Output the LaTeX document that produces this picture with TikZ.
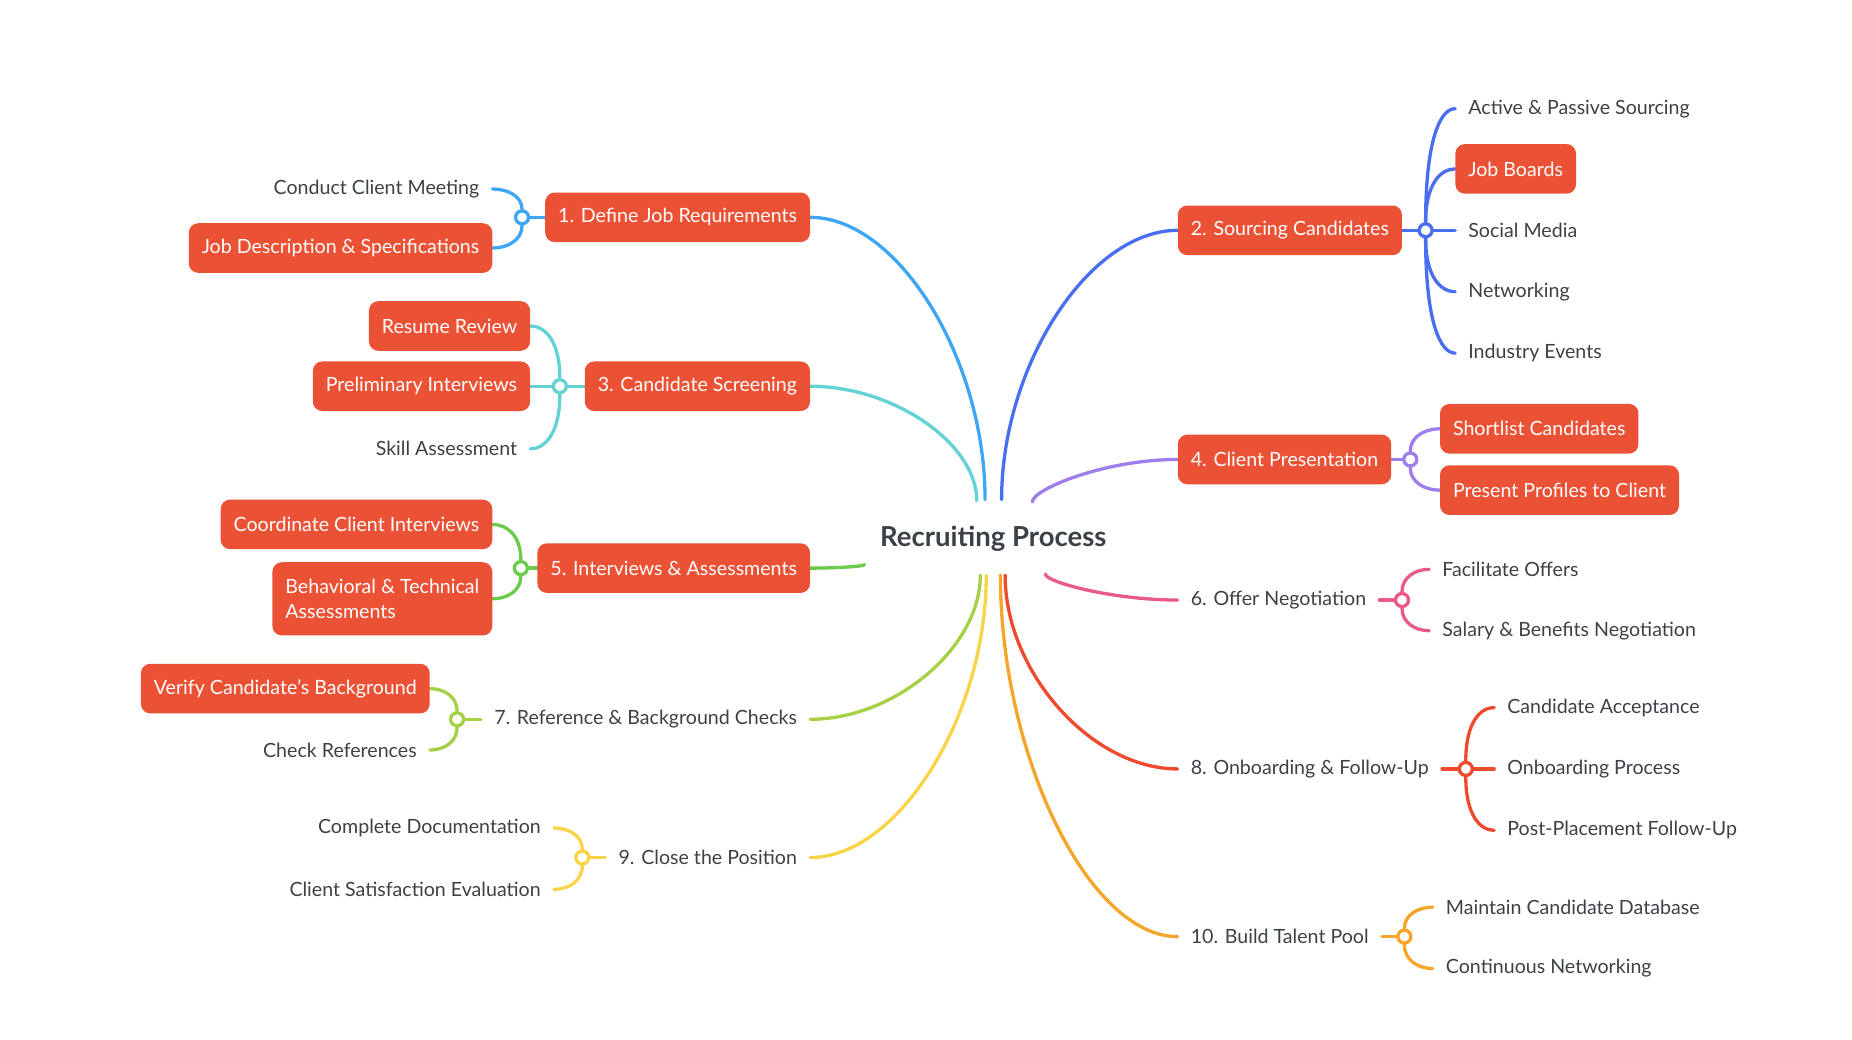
\documentclass[tikz,border=0pt]{standalone}
\usepackage{fontspec}
\setmainfont{Lato}
\usetikzlibrary{calc,backgrounds}

\definecolor{boxred}{HTML}{EB5135}
\definecolor{ink}{HTML}{3C4147}
\definecolor{cdefine}{HTML}{3EA6F4}
\definecolor{csource}{HTML}{4A6EF0}
\definecolor{cscreen}{HTML}{62D2D4}
\definecolor{cpresent}{HTML}{9D7EEB}
\definecolor{cinterview}{HTML}{6BCB4C}
\definecolor{coffer}{HTML}{E9598A}
\definecolor{creference}{HTML}{A6D146}
\definecolor{conboard}{HTML}{EE4A2E}
\definecolor{cclose}{HTML}{F9D449}
\definecolor{ctalent}{HTML}{F5A52A}

\tikzstyle{topicbox} = [fill=boxred, text=white, rounded corners=8pt,
  inner xsep=11pt, inner ysep=0pt, minimum height=42pt,
  font=\fontsize{16.6}{20.5}\selectfont]
\tikzstyle{leaftext} = [text=ink, inner xsep=11pt, inner ysep=0pt,
  minimum height=42pt, font=\fontsize{16.6}{20.5}\selectfont]
\tikzstyle{branch} = [line width=2.8pt, line cap=round]
\tikzstyle{joint} = [circle, draw, fill=white, line width=2.8pt,
  inner sep=0pt, minimum size=11pt]

% curved connector: leaves #3 vertically, meets #4 horizontally
\newcommand{\twig}[4][0.75]{\draw[branch,#2] (#3) .. controls
  ($(#3)!#1!(#3|-#4)$) and ($(#4)!0.5!(#3|-#4)$) .. (#4);}

\begin{document}
\begin{tikzpicture}[x=1pt, y=-1pt]
        \useasboundingbox (0,0) rectangle (1568,880);

        \node [text=ink, font=\fontsize{23.3}{28}\selectfont\bfseries]
              (root) at (841,456) {Recruiting Process};

        % main topics
        \node [topicbox, anchor=east] (define)    at (686,184) {1. Define Job Requirements};
        \node [topicbox, anchor=west] (source)    at (997,195) {2. Sourcing Candidates};
        \node [topicbox, anchor=east] (screen)    at (686,327) {3. Candidate Screening};
        \node [topicbox, anchor=west] (present)   at (997,389) {4. Client Presentation};
        \node [topicbox, anchor=east] (interview) at (686,481) {5. Interviews \& Assessments};
        \node [leaftext, anchor=west] (offer)     at (997,508) {6. Offer Negotiation};
        \node [leaftext, anchor=east] (reference) at (686,609) {7. Reference \& Background Checks};
        \node [leaftext, anchor=west] (onboard)   at (997,651) {8. Onboarding \& Follow-Up};
        \node [leaftext, anchor=east] (close)     at (686,726) {9. Close the Position};
        \node [leaftext, anchor=west] (talent)    at (997,793) {10. Build Talent Pool};

        % junctions
        \node [joint, draw=cdefine]    (jdefine)    at (442,184) {};
        \node [joint, draw=csource]    (jsource)    at (1207,195) {};
        \node [joint, draw=cscreen]    (jscreen)    at (474,327) {};
        \node [joint, draw=cpresent]   (jpresent)   at (1194,389) {};
        \node [joint, draw=cinterview] (jinterview) at (441,481) {};
        \node [joint, draw=coffer]     (joffer)     at (1187,508) {};
        \node [joint, draw=creference] (jreference) at (387,609) {};
        \node [joint, draw=conboard]   (jonboard)   at (1241,651) {};
        \node [joint, draw=cclose]     (jclose)     at (493,726) {};
        \node [joint, draw=ctalent]    (jtalent)    at (1189,793) {};

        % subtopics
        \node [leaftext, anchor=east] (define1) at (417,160) {Conduct Client Meeting};
        \node [topicbox, anchor=east] (define2) at (417,210) {Job Description \& Specifications};

        \node [leaftext, anchor=west] (source1) at (1232,92)  {Active \& Passive Sourcing};
        \node [topicbox, anchor=west] (source2) at (1232,143) {Job Boards};
        \node [leaftext, anchor=west] (source3) at (1232,195) {Social Media};
        \node [leaftext, anchor=west] (source4) at (1232,247) {Networking};
        \node [leaftext, anchor=west] (source5) at (1232,299) {Industry Events};

        \node [topicbox, anchor=east] (screen1) at (449,276) {Resume Review};
        \node [topicbox, anchor=east] (screen2) at (449,327) {Preliminary Interviews};
        \node [leaftext, anchor=east] (screen3) at (449,380) {Skill Assessment};

        \node [topicbox, anchor=west] (present1) at (1219,363) {Shortlist Candidates};
        \node [topicbox, anchor=west] (present2) at (1219,415) {Present Profiles to Client};

        \node [topicbox, anchor=east] (interview1) at (417,444) {Coordinate Client Interviews};
        \node [topicbox, anchor=east, align=left, minimum height=62pt]
              (interview2) at (417,507) {Behavioral \& Technical\\Assessments};

        \node [leaftext, anchor=west] (offer1) at (1210,482) {Facilitate Offers};
        \node [leaftext, anchor=west] (offer2) at (1210,534) {Salary \& Benefits Negotiation};

        \node [topicbox, anchor=east] (reference1) at (364,583) {Verify Candidate's Background};
        \node [leaftext, anchor=east] (reference2) at (364,635) {Check References};

        \node [leaftext, anchor=west] (onboard1) at (1265,599) {Candidate Acceptance};
        \node [leaftext, anchor=west] (onboard2) at (1265,651) {Onboarding Process};
        \node [leaftext, anchor=west] (onboard3) at (1265,703) {Post-Placement Follow-Up};

        \node [leaftext, anchor=east] (close1) at (469,701) {Complete Documentation};
        \node [leaftext, anchor=east] (close2) at (469,753) {Client Satisfaction Evaluation};

        \node [leaftext, anchor=west] (talent1) at (1213,768) {Maintain Candidate Database};
        \node [leaftext, anchor=west] (talent2) at (1213,820) {Continuous Networking};

        % starting points round the root
        \coordinate (s1)  at (834,423);
        \coordinate (s2)  at (848,423);
        \coordinate (s3)  at (827,424);
        \coordinate (s4)  at (874,425);
        \coordinate (s5)  at (732,478);
        \coordinate (s6)  at (885,486);
        \coordinate (s7)  at (830,487);
        \coordinate (s8)  at (851,487);
        \coordinate (s9)  at (835,487);
        \coordinate (s10) at (847,487);

        \begin{scope}[on background layer]
        \twig[0.5]{cdefine}{s1}{define.east}
        \twig[0.5]{csource}{s2}{source.west}
        \twig[0.5]{cscreen}{s3}{screen.east}
        \twig[0.3]{cpresent}{s4}{present.west}
        \twig[0.5]{cinterview}{s5}{interview.east}
        \twig[0.3]{coffer}{s6}{offer.west}
        \twig[0.5]{creference}{s7}{reference.east}
        \twig[0.5]{conboard}{s8}{onboard.west}
        \twig[0.5]{cclose}{s9}{close.east}
        \twig[0.5]{ctalent}{s10}{talent.west}

        \draw[branch, cdefine]    (define.west)    -- (jdefine);
        \draw[branch, csource]    (source.east)    -- (jsource);
        \draw[branch, cscreen]    (screen.west)    -- (jscreen);
        \draw[branch, cpresent]   (present.east)   -- (jpresent);
        \draw[branch, cinterview] (interview.west) -- (jinterview);
        \draw[branch, coffer]     (offer.east)     -- (joffer);
        \draw[branch, creference] (reference.west) -- (jreference);
        \draw[branch, conboard]   (onboard.east)   -- (jonboard);
        \draw[branch, cclose]     (close.west)     -- (jclose);
        \draw[branch, ctalent]    (talent.east)    -- (jtalent);

        \twig{cdefine}{jdefine}{define1.east}
        \twig{cdefine}{jdefine}{define2.east}
        \foreach \i in {1,...,5} {\twig{csource}{jsource}{source\i.west}}
        \foreach \i in {1,2,3} {\twig{cscreen}{jscreen}{screen\i.east}}
        \twig{cpresent}{jpresent}{present1.west}
        \twig{cpresent}{jpresent}{present2.west}
        \twig{cinterview}{jinterview}{interview1.east}
        \twig{cinterview}{jinterview}{interview2.east}
        \twig{coffer}{joffer}{offer1.west}
        \twig{coffer}{joffer}{offer2.west}
        \twig{creference}{jreference}{reference1.east}
        \twig{creference}{jreference}{reference2.east}
        \foreach \i in {1,2,3} {\twig{conboard}{jonboard}{onboard\i.west}}
        \twig{cclose}{jclose}{close1.east}
        \twig{cclose}{jclose}{close2.east}
        \twig{ctalent}{jtalent}{talent1.west}
        \twig{ctalent}{jtalent}{talent2.west}
        \end{scope}
\end{tikzpicture}
\end{document}
